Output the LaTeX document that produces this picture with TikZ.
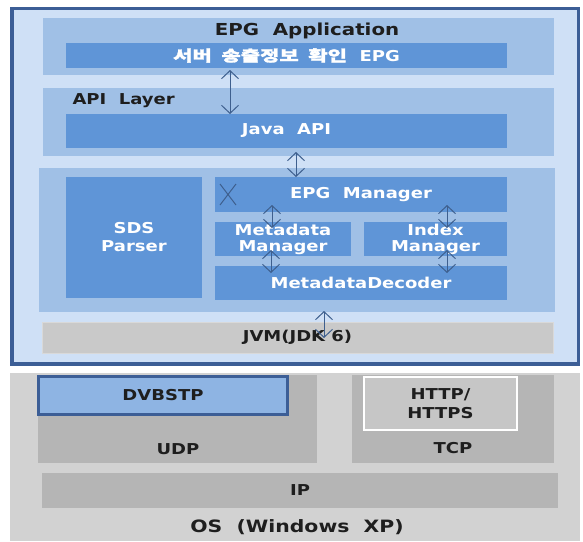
\documentclass[tikz,border=0pt]{standalone}
\usepackage{fontspec}
\setmainfont{DejaVu Sans}[FakeStretch=1.2]
\newfontfamily\krfont{Noto Sans CJK KR}[FakeStretch=1.4, FakeBold=2]
\usepackage{tikz}
\usetikzlibrary{arrows.meta, positioning}
\usepackage{xcolor}
\definecolor{framec}{HTML}{3C5E96}
\definecolor{framebg}{HTML}{CFE0F6}
\definecolor{panelc}{HTML}{A0C0E6}
\definecolor{barc}{HTML}{5F95D7}
\definecolor{arrowc}{HTML}{3E5F8E}
\definecolor{osbg}{HTML}{D2D2D2}
\definecolor{netc}{HTML}{B5B5B5}
\definecolor{jvmc}{HTML}{C9C9C9}
\definecolor{httpc}{HTML}{C6C6C6}
\definecolor{dvbc}{HTML}{8EB4E3}
\definecolor{txtc}{HTML}{1E1E1E}
\tikzset{
  blk/.style={anchor=north west, inner sep=0pt, outer sep=0pt},
  panel/.style={blk, fill=panelc},
  bar/.style={blk, fill=barc, text=white, align=center},
  netbox/.style={blk, fill=netc},
  lbl/.style={text=txtc},
  arr/.style={draw=arrowc, line width=1pt, {Straight Barb[length=8pt,width=17pt]}-{Straight Barb[length=8pt,width=17pt]}}
}

\begin{document}
\begin{tikzpicture}[x=1pt, y=-1pt, font=\fontsize{15}{16}\selectfont\bfseries]
\useasboundingbox (0,0) rectangle (583,541);

% Java side
\draw[framec, line width=3.5pt, fill=framebg] (12,8.5) rectangle (578.5,364);

\node[panel, minimum width=511pt, minimum height=57pt] (app) at (43,18) {};
\node[lbl, font=\fontsize{16.5}{18}\selectfont\bfseries] (apptitle) at (307,31) {EPG\ \ Application};
\node[bar, minimum width=441pt, minimum height=25pt] (srv) at (66,43) {{\krfont 서버\ \ 송출정보\ \ 확인}\ \ EPG};

\node[panel, minimum width=511pt, minimum height=68pt] (api) at (43,88) {};
\node[lbl, anchor=west] (apititle) at (69,101) {API\ \ Layer};
\node[bar, minimum width=441pt, minimum height=34pt] (java) at (66,114) {Java\ \ API};

\node[panel, minimum width=516pt, minimum height=144pt] (core) at (39,168) {};
\node[bar, minimum width=136pt, minimum height=121pt, font=\fontsize{15}{18}\selectfont\bfseries] (sds) at (66,177) {SDS\\Parser};
\node[bar, minimum width=292pt, minimum height=35pt] (epgm) at (215,177) {EPG\ \ Manager};
\node[bar, minimum width=136pt, minimum height=34pt] (metam) at (215,222) {Metadata\\Manager};
\node[bar, minimum width=143pt, minimum height=34pt] (idxm) at (364,222) {Index\\Manager};
\node[bar, minimum width=292pt, minimum height=34pt] (dec) at (215,266) {MetadataDecoder};
\draw[arrowc, line width=1pt] (220,184) -- (236,205) (236,184) -- (220,205);

\node[blk, fill=jvmc, draw=jvmc!70!white, text=txtc, minimum width=511pt, minimum height=31pt] (jvm) at (42,322) {JVM(JDK 6)};

% arrows
\draw[arr, shorten <=2pt] ([xshift=-56.5pt]srv.south) -- ([xshift=-56.5pt]java.north);
\draw[arr, shorten <=4pt] ([xshift=9.5pt]java.south) -- ([xshift=-65pt]epgm.north);
\draw[arr, shorten <=-7pt, shorten >=-6pt] ([xshift=-89pt]epgm.south) -- ([xshift=-11pt]metam.north);
\draw[arr, shorten <=-7pt, shorten >=-6pt] ([xshift=86pt]epgm.south) -- ([xshift=11.5pt]idxm.north);
\draw[arr, shorten <=-6pt, shorten >=-7pt] ([xshift=-12pt]metam.south) -- ([xshift=-90pt]dec.north);
\draw[arr, shorten <=-6pt, shorten >=-7pt] ([xshift=11.5pt]idxm.south) -- ([xshift=86pt]dec.north);
\draw[arr, shorten <=-1pt, shorten >=-16pt] ([xshift=27pt]core.south) -- ([xshift=26.5pt]jvm.north);

% OS side
\fill[osbg] (10,373) rectangle (580,541);
\node[netbox, minimum width=279pt, minimum height=88pt] (udp) at (38,375) {};
\node[netbox, minimum width=202pt, minimum height=88pt] (tcp) at (352,375) {};
\node[blk, fill=dvbc, draw=framec, line width=3pt, text=txtc, minimum width=249pt, minimum height=38pt] (dvb) at (38.5,376) {DVBSTP};
\node[blk, fill=httpc, draw=white, line width=2.5pt, text=txtc, align=center, minimum width=153pt, minimum height=53pt, font=\fontsize{15}{19}\selectfont\bfseries] (http) at (364,377) {HTTP/\\HTTPS};
\node[lbl] (udplbl) at (178,449) {UDP};
\node[lbl] (tcplbl) at (453,448) {TCP};
\node[netbox, text=txtc, minimum width=516pt, minimum height=35pt] (ip) at (42,473) {IP};
\node[lbl, font=\fontsize{17}{19}\selectfont\bfseries] (os) at (297,527) {OS\ \ (Windows\ \ XP)};
\end{tikzpicture}
\end{document}
